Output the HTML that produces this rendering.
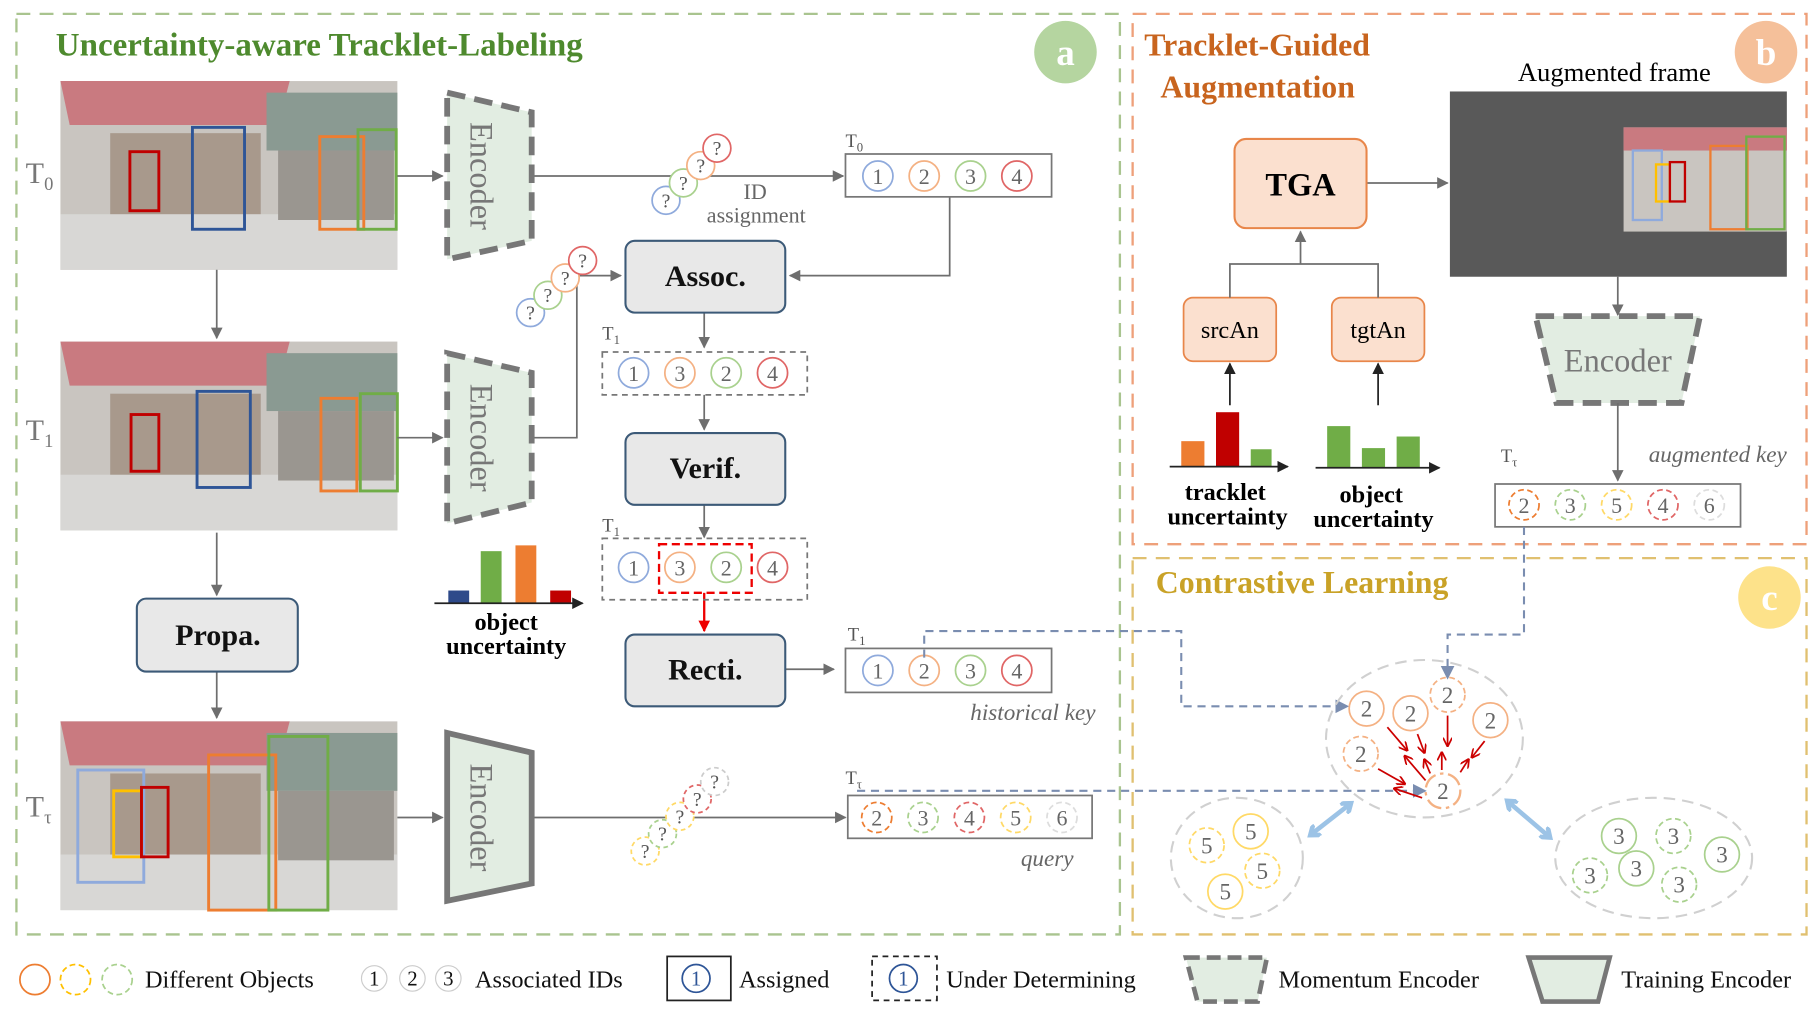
<!DOCTYPE html>
<html><head><meta charset="utf-8"><style>html,body{margin:0;padding:0;background:#fff;width:1816px;height:1012px;overflow:hidden}svg{display:block}text{font-family:"Liberation Serif",serif}</style></head><body>
<svg width="1816" height="1012" viewBox="0 0 1568 874" xmlns="http://www.w3.org/2000/svg">
<defs>
<marker id="ag" markerWidth="10" markerHeight="10" refX="9" refY="5" orient="auto" markerUnits="userSpaceOnUse"><path d="M0,0 L10,5 L0,10 z" fill="#6e6e6e"/></marker>
<marker id="ak" markerWidth="10" markerHeight="10" refX="9" refY="5" orient="auto" markerUnits="userSpaceOnUse"><path d="M0,0 L10,5 L0,10 z" fill="#222"/></marker>
<marker id="ar" markerWidth="10" markerHeight="10" refX="9" refY="5" orient="auto" markerUnits="userSpaceOnUse"><path d="M0,0 L10,5 L0,10 z" fill="#e00"/></marker>
<marker id="ab" markerWidth="12" markerHeight="12" refX="10" refY="6" orient="auto" markerUnits="userSpaceOnUse"><path d="M0,0 L12,6 L0,12 z" fill="#7a8db0"/></marker>
<marker id="ad" markerWidth="8" markerHeight="8" refX="7" refY="4" orient="auto" markerUnits="userSpaceOnUse"><path d="M0,0 L8,4 L0,8" fill="none" stroke="#c00" stroke-width="1.5"/></marker>
<marker id="al" markerWidth="12" markerHeight="12" refX="6" refY="6" orient="auto-start-reverse" markerUnits="userSpaceOnUse"><path d="M0,0 L8,6 L0,12" fill="none" stroke="#9cc3e6" stroke-width="4"/></marker>
</defs>
<!-- panels -->
<rect x="14" y="12" width="953" height="795" fill="none" stroke="#a9c48f" stroke-width="2" stroke-dasharray="12,8"/>
<rect x="978" y="12" width="582" height="458" fill="none" stroke="#eea07a" stroke-width="2" stroke-dasharray="12,8"/>
<rect x="978" y="482" width="582" height="325" fill="none" stroke="#e0c070" stroke-width="2" stroke-dasharray="12,8"/>
<text x="48" y="48" font-size="28.5" font-weight="bold" fill="#4e8a2e">Uncertainty-aware Tracklet-Labeling</text>
<circle cx="920" cy="45" r="27" fill="#b5d5a0"/><text x="920" y="56" font-size="32" font-weight="bold" fill="#fff" text-anchor="middle">a</text>
<text x="988" y="48" font-size="27.5" font-weight="bold" fill="#c8641e">Tracklet-Guided</text>
<text x="1002" y="84" font-size="27.5" font-weight="bold" fill="#c8641e">Augmentation</text>
<circle cx="1525" cy="45" r="27" fill="#f5c09a"/><text x="1525" y="56" font-size="32" font-weight="bold" fill="#fff" text-anchor="middle">b</text>
<text x="998" y="512" font-size="27.5" font-weight="bold" fill="#c9a227">Contrastive Learning</text>
<circle cx="1528" cy="516" r="27" fill="#fde28a"/><text x="1528" y="527" font-size="32" font-weight="bold" fill="#fff" text-anchor="middle">c</text>

<!-- photos -->
<g id="ph">
<rect x="52" y="70" width="291" height="163" fill="#c9c5c0"/>
<path d="M52,70 H250 L240,108 H60 Z" fill="#c97a80"/>
<rect x="95" y="115" width="130" height="80" fill="#a8998c"/>
<rect x="52" y="185" width="291" height="48" fill="#d8d7d5"/>
<rect x="230" y="80" width="113" height="50" fill="#8a9a92"/>
<rect x="240" y="130" width="100" height="60" fill="#9a9690"/>
</g>
<use href="#ph" y="225"/>
<use href="#ph" y="553"/>
<text x="22" y="158" font-size="26" fill="#777">T<tspan font-size="16" dy="6">0</tspan></text>
<text x="22" y="380" font-size="26" fill="#777">T<tspan font-size="16" dy="6">1</tspan></text>
<text x="22" y="705" font-size="26" fill="#777">T<tspan font-size="16" dy="6">τ</tspan></text>
<g fill="none" stroke-width="2.5">
<rect x="112" y="131" width="25" height="51" stroke="#c00000"/><rect x="166" y="110" width="45" height="88" stroke="#2e5597"/><rect x="276" y="118" width="38" height="80" stroke="#ed7d31"/><rect x="309" y="112" width="33" height="86" stroke="#70ad47"/>
<rect x="113" y="358" width="24" height="49" stroke="#c00000"/><rect x="170" y="338" width="46" height="83" stroke="#2e5597"/><rect x="277" y="344" width="31" height="80" stroke="#ed7d31"/><rect x="311" y="340" width="32" height="84" stroke="#70ad47"/>
<rect x="67" y="665" width="57" height="97" stroke="#8faadc"/><rect x="98" y="683" width="24" height="57" stroke="#ffc000"/><rect x="122" y="680" width="23" height="60" stroke="#c00000"/><rect x="180" y="652" width="58" height="134" stroke="#ed7d31"/><rect x="232" y="636" width="51" height="150" stroke="#70ad47"/>
</g>
<g stroke="#6e6e6e" stroke-width="1.5" fill="none">
<line x1="187" y1="233" x2="187" y2="292" marker-end="url(#ag)"/>
<line x1="187" y1="460" x2="187" y2="514" marker-end="url(#ag)"/>
<line x1="187" y1="580" x2="187" y2="620" marker-end="url(#ag)"/>
<line x1="343" y1="152" x2="382" y2="152" marker-end="url(#ag)"/>
<line x1="343" y1="378" x2="382" y2="378" marker-end="url(#ag)"/>
<line x1="343" y1="706" x2="382" y2="706" marker-end="url(#ag)"/>
<line x1="460" y1="152" x2="728" y2="152" marker-end="url(#ag)"/>
<polyline points="820,170 820,238 682,238" marker-end="url(#ag)"/>
<polyline points="460,378 498,378 498,238 536,238" marker-end="url(#ag)"/>
<line x1="608" y1="270" x2="608" y2="300" marker-end="url(#ag)"/>
<line x1="608" y1="341" x2="608" y2="371" marker-end="url(#ag)"/>
<line x1="608" y1="436" x2="608" y2="464" marker-end="url(#ag)"/>
<line x1="678" y1="578" x2="720" y2="578" marker-end="url(#ag)"/>
<line x1="460" y1="706" x2="730" y2="706" marker-end="url(#ag)"/>
<line x1="1180" y1="158" x2="1250" y2="158" marker-end="url(#ag)"/>
</g>
<line x1="608" y1="512" x2="608" y2="545" stroke="#e00" stroke-width="2" marker-end="url(#ar)"/>
<!-- encoders -->
<g fill="#e2ede2" stroke="#777" stroke-width="5" stroke-dasharray="16,8">
<polygon points="386,80 459,97 459,208 386,224"/>
<polygon points="386,305 459,322 459,434 386,452"/>
<polygon points="1326,273 1468,273 1452,348 1344,348"/>
</g>
<polygon points="386,633 459,650 459,763 386,778" fill="#e2ede2" stroke="#777" stroke-width="5"/>
<g font-size="28" fill="#777">
<text transform="translate(406,152) rotate(90)" text-anchor="middle">Encoder</text>
<text transform="translate(406,378) rotate(90)" text-anchor="middle">Encoder</text>
<text transform="translate(406,706) rotate(90)" text-anchor="middle">Encoder</text>
<text x="1397" y="321" text-anchor="middle">Encoder</text>
</g>
<!-- process boxes -->
<g fill="#e8e8e8" stroke="#3c5a78" stroke-width="1.8">
<rect x="540" y="208" width="138" height="62" rx="8"/>
<rect x="540" y="374" width="138" height="62" rx="8"/>
<rect x="540" y="548" width="138" height="62" rx="8"/>
<rect x="118" y="517" width="139" height="63" rx="8"/>
</g>
<g font-size="26" font-weight="bold" fill="#111" text-anchor="middle">
<text x="609" y="247">Assoc.</text><text x="609" y="413">Verif.</text><text x="609" y="587">Recti.</text><text x="188" y="557">Propa.</text>
</g>
<!-- ID boxes -->
<g fill="none" stroke="#777" stroke-width="1.5">
<rect x="730" y="133" width="178" height="37"/>
<rect x="520" y="304" width="177" height="37" stroke-dasharray="5,4"/>
<rect x="520" y="465" width="177" height="53" stroke-dasharray="5,4"/>
<rect x="730" y="560" width="178" height="38"/>
<rect x="732" y="687" width="211" height="37"/>
<rect x="1291" y="418" width="212" height="37"/>
</g>
<rect x="569" y="470" width="80" height="42" fill="none" stroke="#e00" stroke-width="2" stroke-dasharray="7,4"/>
<g font-size="16" fill="#555"><text x="730" y="127">T<tspan font-size="11" dy="4">0</tspan></text><text x="520" y="293">T<tspan font-size="11" dy="4">1</tspan></text><text x="520" y="459">T<tspan font-size="11" dy="4">1</tspan></text><text x="732" y="553">T<tspan font-size="11" dy="4">1</tspan></text><text x="730" y="677">T<tspan font-size="11" dy="4">τ</tspan></text><text x="1296" y="399">T<tspan font-size="11" dy="4">τ</tspan></text></g>
<g font-size="19" fill="#666" text-anchor="middle" stroke-width="1.5">
<g fill="none"><circle cx="758" cy="152" r="13" stroke="#8faadc"/><circle cx="798" cy="152" r="13" stroke="#f4b183"/><circle cx="838" cy="152" r="13" stroke="#a9d18e"/><circle cx="878" cy="152" r="13" stroke="#e06666"/></g>
<text x="758" y="159">1</text><text x="798" y="159">2</text><text x="838" y="159">3</text><text x="878" y="159">4</text>
<g fill="none"><circle cx="547" cy="322" r="13" stroke="#8faadc"/><circle cx="587" cy="322" r="13" stroke="#f4b183"/><circle cx="627" cy="322" r="13" stroke="#a9d18e"/><circle cx="667" cy="322" r="13" stroke="#e06666"/></g>
<text x="547" y="329">1</text><text x="587" y="329">3</text><text x="627" y="329">2</text><text x="667" y="329">4</text>
<g fill="none"><circle cx="547" cy="490" r="13" stroke="#8faadc"/><circle cx="587" cy="490" r="13" stroke="#f4b183"/><circle cx="627" cy="490" r="13" stroke="#a9d18e"/><circle cx="667" cy="490" r="13" stroke="#e06666"/></g>
<text x="547" y="497">1</text><text x="587" y="497">3</text><text x="627" y="497">2</text><text x="667" y="497">4</text>
<g fill="none"><circle cx="758" cy="579" r="13" stroke="#8faadc"/><circle cx="798" cy="579" r="13" stroke="#f4b183"/><circle cx="838" cy="579" r="13" stroke="#a9d18e"/><circle cx="878" cy="579" r="13" stroke="#e06666"/></g>
<text x="758" y="586">1</text><text x="798" y="586">2</text><text x="838" y="586">3</text><text x="878" y="586">4</text>
<g fill="none" stroke-dasharray="5,3"><circle cx="757" cy="706" r="13" stroke="#ed7d31"/><circle cx="797" cy="706" r="13" stroke="#a9d18e"/><circle cx="837" cy="706" r="13" stroke="#e06666"/><circle cx="877" cy="706" r="13" stroke="#ffd966"/><circle cx="917" cy="706" r="13" stroke="#ddd"/></g>
<text x="757" y="713">2</text><text x="797" y="713">3</text><text x="837" y="713">4</text><text x="877" y="713">5</text><text x="917" y="713">6</text>
<g fill="none" stroke-dasharray="5,3"><circle cx="1316" cy="436" r="13" stroke="#ed7d31"/><circle cx="1356" cy="436" r="13" stroke="#a9d18e"/><circle cx="1396" cy="436" r="13" stroke="#ffd966"/><circle cx="1436" cy="436" r="13" stroke="#e06666"/><circle cx="1476" cy="436" r="13" stroke="#ddd"/></g>
<text x="1316" y="443">2</text><text x="1356" y="443">3</text><text x="1396" y="443">5</text><text x="1436" y="443">4</text><text x="1476" y="443">6</text>
</g>
<!-- question circles -->
<g font-size="17" fill="#555" text-anchor="middle" stroke-width="1.5">
<g fill="#fff"><circle cx="575" cy="173" r="12" stroke="#8faadc"/><circle cx="590" cy="158" r="12" stroke="#a9d18e"/><circle cx="605" cy="143" r="12" stroke="#f4b183"/><circle cx="619" cy="128" r="12" stroke="#e06666"/></g>
<text x="575" y="179">?</text><text x="590" y="164">?</text><text x="605" y="149">?</text><text x="619" y="134">?</text>
<g fill="#fff"><circle cx="458" cy="270" r="12" stroke="#8faadc"/><circle cx="473" cy="255" r="12" stroke="#a9d18e"/><circle cx="488" cy="240" r="12" stroke="#f4b183"/><circle cx="503" cy="225" r="12" stroke="#e06666"/></g>
<text x="458" y="276">?</text><text x="473" y="261">?</text><text x="488" y="246">?</text><text x="503" y="231">?</text>
<g fill="#fff" stroke-dasharray="4,3"><circle cx="557" cy="735" r="12" stroke="#ffd966"/><circle cx="572" cy="720" r="12" stroke="#a9d18e"/><circle cx="587" cy="705" r="12" stroke="#ffd966"/><circle cx="602" cy="690" r="12" stroke="#e06666"/><circle cx="617" cy="675" r="12" stroke="#ccc"/></g>
<text x="557" y="741">?</text><text x="572" y="726">?</text><text x="587" y="711">?</text><text x="602" y="696">?</text><text x="617" y="681">?</text>
</g>
<text x="652" y="172" font-size="19" fill="#666" text-anchor="middle">ID</text>
<text x="653" y="192" font-size="19" fill="#666" text-anchor="middle">assignment</text>
<text x="946" y="622" font-size="20" font-style="italic" fill="#666" text-anchor="end">historical key</text>
<text x="927" y="748" font-size="20" font-style="italic" fill="#666" text-anchor="end">query</text>
<text x="1543" y="399" font-size="20" font-style="italic" fill="#666" text-anchor="end">augmented key</text>
<!-- bar chart a -->
<rect x="387" y="510" width="18" height="11" fill="#2e4a8a"/><rect x="415" y="476" width="18" height="45" fill="#70ad47"/><rect x="445" y="471" width="18" height="50" fill="#ed7d31"/><rect x="475" y="510" width="18" height="11" fill="#c00000"/>
<line x1="375" y1="521" x2="503" y2="521" stroke="#222" stroke-width="1.5" marker-end="url(#ak)"/>
<text x="437" y="544" font-size="21" font-weight="bold" text-anchor="middle">object</text>
<text x="437" y="565" font-size="21" font-weight="bold" text-anchor="middle">uncertainty</text>
<!-- panel b -->
<rect x="1066" y="120" width="114" height="77" rx="10" fill="#fbe0cf" stroke="#e8864a" stroke-width="1.8"/>
<text x="1123" y="169" font-size="28" font-weight="bold" text-anchor="middle">TGA</text>
<rect x="1022" y="257" width="80" height="55" rx="8" fill="#fbe0cf" stroke="#e8864a" stroke-width="1.5"/>
<rect x="1150" y="257" width="80" height="55" rx="8" fill="#fbe0cf" stroke="#e8864a" stroke-width="1.5"/>
<text x="1062" y="292" font-size="21" text-anchor="middle">srcAn</text>
<text x="1190" y="292" font-size="21" text-anchor="middle">tgtAn</text>
<polyline points="1062,257 1062,228 1190,228 1190,257" fill="none" stroke="#6e6e6e" stroke-width="1.5"/>
<line x1="1123" y1="228" x2="1123" y2="200" stroke="#6e6e6e" stroke-width="1.5" marker-end="url(#ag)"/>
<line x1="1062" y1="350" x2="1062" y2="314" stroke="#222" stroke-width="1.5" marker-end="url(#ak)"/>
<line x1="1190" y1="350" x2="1190" y2="314" stroke="#222" stroke-width="1.5" marker-end="url(#ak)"/>
<text x="1394" y="70" font-size="23" text-anchor="middle">Augmented frame</text>
<rect x="1252" y="79" width="291" height="160" fill="#595959"/>
<rect x="1402" y="110" width="141" height="90" fill="#c9c5c0"/><rect x="1402" y="110" width="141" height="20" fill="#c97a80"/>
<g fill="none" stroke-width="2"><rect x="1410" y="130" width="25" height="60" stroke="#8faadc"/><rect x="1430" y="142" width="12" height="32" stroke="#ffc000"/><rect x="1442" y="140" width="13" height="34" stroke="#c00000"/><rect x="1477" y="126" width="32" height="72" stroke="#ed7d31"/><rect x="1508" y="118" width="33" height="80" stroke="#70ad47"/></g>
<line x1="1397" y1="239" x2="1397" y2="272" stroke="#6e6e6e" stroke-width="1.5" marker-end="url(#ag)"/>
<line x1="1397" y1="348" x2="1397" y2="415" stroke="#6e6e6e" stroke-width="1.5" marker-end="url(#ag)"/>
<rect x="1020" y="381" width="20" height="22" fill="#ed7d31"/><rect x="1050" y="356" width="20" height="47" fill="#c00000"/><rect x="1080" y="388" width="18" height="15" fill="#70ad47"/>
<line x1="1010" y1="403" x2="1112" y2="403" stroke="#222" stroke-width="1.5" marker-end="url(#ak)"/>
<rect x="1146" y="368" width="20" height="36" fill="#70ad47"/><rect x="1176" y="387" width="20" height="17" fill="#70ad47"/><rect x="1206" y="377" width="20" height="27" fill="#70ad47"/>
<line x1="1136" y1="404" x2="1243" y2="404" stroke="#222" stroke-width="1.5" marker-end="url(#ak)"/>
<g font-size="21" font-weight="bold" text-anchor="middle"><text x="1058" y="432">tracklet</text><text x="1060" y="453">uncertainty</text><text x="1184" y="434">object</text><text x="1186" y="455">uncertainty</text></g>
<!-- panel c -->
<g fill="none" stroke="#7a8db0" stroke-width="1.8" stroke-dasharray="7,5">
<polyline points="798,568 798,545 1020,545 1020,610 1163,610" marker-end="url(#ab)"/>
<polyline points="1316,455 1316,548 1250,548 1250,585" marker-end="url(#ab)"/>
<line x1="740" y1="683" x2="1230" y2="683" marker-end="url(#ab)"/>
</g>
<g fill="none" stroke="#d0d0d0" stroke-width="1.8" stroke-dasharray="10,6">
<ellipse cx="1230" cy="638" rx="85" ry="68"/><ellipse cx="1068" cy="741" rx="57" ry="52"/><ellipse cx="1428" cy="741" rx="85" ry="52"/>
</g>
<g font-size="20" fill="#666" text-anchor="middle" stroke-width="1.5">
<g fill="none" stroke="#f4b183"><circle cx="1180" cy="612" r="15"/><circle cx="1218" cy="616" r="15"/><circle cx="1287" cy="622" r="15"/><circle cx="1250" cy="600" r="15" stroke-dasharray="5,3"/><circle cx="1175" cy="651" r="15" stroke-dasharray="5,3"/><circle cx="1246" cy="683" r="15" stroke-dasharray="14,4,3,4" stroke-width="2"/></g>
<text x="1180" y="619">2</text><text x="1218" y="623">2</text><text x="1287" y="629">2</text><text x="1250" y="607">2</text><text x="1175" y="658">2</text><text x="1246" y="690">2</text>
<g fill="none" stroke="#ffd966"><circle cx="1080" cy="718" r="15"/><circle cx="1058" cy="770" r="15"/><circle cx="1042" cy="730" r="15" stroke-dasharray="5,3"/><circle cx="1090" cy="752" r="15" stroke-dasharray="5,3"/></g>
<text x="1080" y="725">5</text><text x="1058" y="777">5</text><text x="1042" y="737">5</text><text x="1090" y="759">5</text>
<g fill="none" stroke="#a9d18e"><circle cx="1398" cy="722" r="15"/><circle cx="1487" cy="738" r="15"/><circle cx="1413" cy="750" r="15"/><circle cx="1445" cy="722" r="15" stroke-dasharray="5,3"/><circle cx="1373" cy="756" r="15" stroke-dasharray="5,3"/><circle cx="1450" cy="764" r="15" stroke-dasharray="5,3"/></g>
<text x="1398" y="729">3</text><text x="1487" y="745">3</text><text x="1413" y="757">3</text><text x="1445" y="729">3</text><text x="1373" y="763">3</text><text x="1450" y="771">3</text>
</g>
<g stroke="#c00" stroke-width="1.5">
<line x1="1198" y1="628" x2="1215" y2="648" marker-end="url(#ad)"/>
<line x1="1224" y1="634" x2="1230" y2="650" marker-end="url(#ad)"/>
<line x1="1250" y1="618" x2="1250" y2="644" marker-end="url(#ad)"/>
<line x1="1282" y1="640" x2="1271" y2="654" marker-end="url(#ad)"/>
<line x1="1231" y1="674" x2="1213" y2="653" marker-end="url(#ad)"/>
<line x1="1235" y1="668" x2="1230" y2="656" marker-end="url(#ad)"/>
<line x1="1245" y1="665" x2="1245" y2="650" marker-end="url(#ad)"/>
<line x1="1261" y1="667" x2="1268" y2="656" marker-end="url(#ad)"/>
<line x1="1190" y1="664" x2="1213" y2="677" marker-end="url(#ad)"/>
<line x1="1228" y1="689" x2="1204" y2="681" marker-end="url(#ad)"/>
</g>
<line x1="1133" y1="720" x2="1165" y2="695" stroke="#9cc3e6" stroke-width="4" marker-start="url(#al)" marker-end="url(#al)"/>
<line x1="1303" y1="693" x2="1337" y2="722" stroke="#9cc3e6" stroke-width="4" marker-start="url(#al)" marker-end="url(#al)"/>
<!-- legend -->
<g font-size="21" fill="#111">
<circle cx="30" cy="846" r="13" fill="none" stroke="#ed7d31" stroke-width="1.5"/>
<circle cx="65" cy="846" r="13" fill="none" stroke="#ffc000" stroke-width="1.5" stroke-dasharray="5,3"/>
<circle cx="101" cy="846" r="13" fill="none" stroke="#a9d18e" stroke-width="1.5" stroke-dasharray="5,3"/>
<text x="125" y="853">Different Objects</text>
<g fill="none" stroke="#ccc"><circle cx="323" cy="845" r="11"/><circle cx="356" cy="845" r="11"/><circle cx="387" cy="845" r="11"/></g>
<g text-anchor="middle" font-size="18"><text x="323" y="851">1</text><text x="356" y="851">2</text><text x="387" y="851">3</text></g>
<text x="410" y="853">Associated IDs</text>
<rect x="576" y="826" width="55" height="38" fill="none" stroke="#222" stroke-width="1.5"/>
<circle cx="601" cy="845" r="12" fill="none" stroke="#2e5597" stroke-width="1.5"/><text x="601" y="851" font-size="18" text-anchor="middle" fill="#2e5597">1</text>
<text x="638" y="853">Assigned</text>
<rect x="753" y="826" width="56" height="38" fill="none" stroke="#222" stroke-width="1.5" stroke-dasharray="5,4"/>
<circle cx="780" cy="845" r="12" fill="none" stroke="#2e5597" stroke-width="1.5"/><text x="780" y="851" font-size="18" text-anchor="middle" fill="#2e5597">1</text>
<text x="817" y="853">Under Determining</text>
<polygon points="1024,827 1094,827 1086,865 1034,865" fill="#e2ede2" stroke="#777" stroke-width="4" stroke-dasharray="12,6"/>
<text x="1104" y="853">Momentum Encoder</text>
<polygon points="1320,827 1390,827 1380,865 1332,865" fill="#e2ede2" stroke="#777" stroke-width="4"/>
<text x="1400" y="853">Training Encoder</text>
</g>
</svg>
</body></html>
